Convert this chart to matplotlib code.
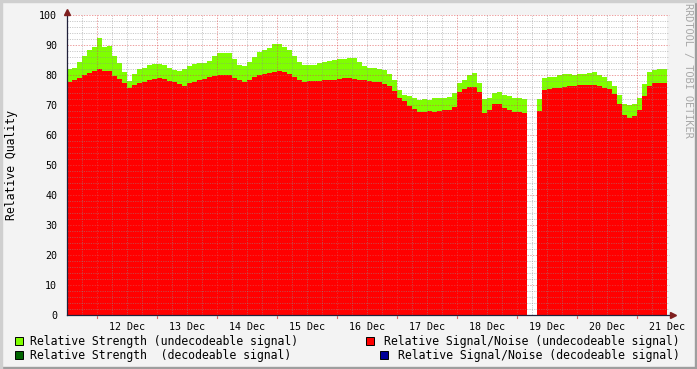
import numpy as np
import matplotlib
matplotlib.use("Agg")
import matplotlib.pyplot as plt
from matplotlib.patches import Rectangle

# samples every 2 hours, starting 11 Dec 00:00 (10 days, 120 steps)
strength = [82, 82.5, 84.5, 86.5, 88.2, 89.5, 92.5, 89.5, 89.7, 86.5,
            84, 81, 78, 80.5, 82, 82.5, 83.5, 83.8, 83.8, 83.5,
            82.5, 81.8, 81.4, 82, 83, 83.8, 84, 84, 84.6, 86.2,
            87.2, 87.5, 87.5, 85.5, 83.5, 83, 84.5, 86, 87.6, 88.2,
            89, 90.2, 90.3, 89.5, 88.3, 86.3, 84.2, 83.3, 83.3, 83.5,
            84, 84.5, 84.8, 85, 85.2, 85.5, 85.8, 85.8, 84.5, 83,
            82.5, 82.2, 82, 81.6, 80.5, 78.5, 75, 73.5, 73, 72.2,
            71.7, 72, 71.7, 72.2, 72.5, 72.4, 72.6, 74, 77.5, 78.5,
            80, 80.6, 77.5, 72, 72.5, 74, 74.5, 73.3, 73, 72.3,
            72.2, 72, np.nan, np.nan, 72, 79, 79.3, 79.5, 80, 80.2,
            80.2, 80, 80.2, 80.5, 80.8, 81, 80, 79.2, 78, 76.5,
            73.5, 70.5, 70, 70.2, 72.5, 77, 81, 81.8, 81.9, 81.9]
snr = [77.8, 78.2, 79, 80, 80.8, 81.2, 82, 81.2, 81.2, 79.8,
       78.8, 77.5, 75.6, 76.6, 77.2, 77.8, 78.3, 78.8, 78.9, 78.6,
       78, 77.6, 76.9, 76.5, 77.2, 77.8, 78.4, 78.8, 79.2, 79.6,
       80, 80, 80, 79, 78.2, 77.8, 78.4, 79.2, 80, 80.4,
       80.6, 81, 81.2, 81, 80.2, 79.2, 78.2, 77.6, 77.9, 78,
       78.1, 78.3, 78.3, 78.5, 78.7, 78.9, 79, 78.8, 78.5, 78.2,
       78, 77.8, 77.6, 77, 76.2, 74.8, 72.5, 71.2, 69.8, 68.6,
       67.6, 67.8, 68, 67.8, 68, 68.2, 68.4, 69.5, 74.5, 75.5,
       76, 76, 74.5, 67.5, 68.5, 70.5, 70.5, 69, 68.3, 67.8,
       67.6, 67.2, np.nan, np.nan, 68, 75, 75.4, 75.6, 75.8, 76,
       76.2, 76.4, 76.6, 76.8, 76.8, 76.6, 76.2, 75.8, 75.2, 73.8,
       70.5, 66.8, 65.8, 66.2, 68.5, 73, 76.5, 77.2, 77.2, 77.3]
day_labels = ['12 Dec', '13 Dec', '14 Dec', '15 Dec', '16 Dec',
              '17 Dec', '18 Dec', '19 Dec', '20 Dec', '21 Dec']
legend_left = ['Relative Strength (undecodeable signal)',
               'Relative Strength  (decodeable signal)']
legend_right = ['Relative Signal/Noise (undecodeable signal)',
                'Relative Signal/Noise (decodeable signal)']

W, H = 697, 369
MONO = 'DejaVu Sans Mono'
plt.rcParams['font.family'] = MONO

fig = plt.figure(figsize=(W / 100, H / 100), dpi=100, facecolor='#F3F3F3')
# frame shading
fig.patches.append(Rectangle((0, 0), 1, 2 / H, transform=fig.transFigure, color='#9E9E9E'))
fig.patches.append(Rectangle((1 - 2 / W, 0), 2 / W, 1, transform=fig.transFigure, color='#9E9E9E'))
fig.patches.append(Rectangle((0, 1 - 2 / H), 1, 2 / H, transform=fig.transFigure, color='#CFCFCF'))
fig.patches.append(Rectangle((0, 0), 2 / W, 1, transform=fig.transFigure, color='#CFCFCF'))

ax = fig.add_axes([67 / W, 54 / H, 600 / W, 300 / H])
ax.set_facecolor('white')

t = np.arange(len(strength)) * 2
s = np.array(strength)
r = np.array(snr)
ok = ~np.isnan(s)
ax.bar(t[ok], s[ok], width=2, align='edge', color='#7FFF00', linewidth=0, antialiased=False, zorder=1)
ax.bar(t[ok], r[ok], width=2, align='edge', color='#FF0000', linewidth=0, antialiased=False, zorder=2)

ax.set_xlim(0, 240)
ax.set_ylim(0, 100)
for sp in ax.spines.values():
    sp.set_visible(False)

# grid on top of the areas
minor_c = (0.56, 0.56, 0.56, 0.55)
major_c = (0.87, 0.31, 0.31, 0.55)
dot = (0, (1.4, 1.4))
for y in range(2, 101, 2):
    if y % 10 == 0:
        ax.axhline(y, xmin=0, xmax=1.004, color=major_c, lw=0.7, ls=dot, zorder=3, clip_on=False)
    else:
        ax.axhline(y, xmin=0, xmax=1.004, color=minor_c, lw=0.6, ls=dot, zorder=3, clip_on=False)
for h in range(6, 240, 6):
    if (h - 12) % 24 == 0:
        ax.axvline(h, ymin=-0.01, ymax=1, color=major_c, lw=0.7, ls=dot, zorder=3, clip_on=False)
        ax.plot([h, h], [0, -0.9], color=(0.87, 0.31, 0.31, 0.8), lw=0.8, zorder=3, clip_on=False)
    else:
        ax.axvline(h, ymin=0, ymax=1, color=minor_c, lw=0.6, ls=dot, zorder=3, clip_on=False)

# axes with arrows
axis_c = '#20203A'
arrow_c = '#7F1F1F'
ax.plot([0, 0], [0, 1.015], transform=ax.transAxes, color=axis_c, lw=0.9, clip_on=False, zorder=4)
ax.plot([0, 1.008], [0, 0], transform=ax.transAxes, color=axis_c, lw=0.9, clip_on=False, zorder=4)
ax.plot([0], [1.01], marker='^', ms=4, color=arrow_c, transform=ax.transAxes, clip_on=False, zorder=5)
ax.plot([1.01], [0], marker='>', ms=4, color=arrow_c, transform=ax.transAxes, clip_on=False, zorder=5)

ax.set_yticks(range(0, 101, 10))
ax.set_yticklabels([str(v) for v in range(0, 101, 10)])
ax.set_xticks(np.arange(1, 11) * 24)
ax.set_xticklabels(day_labels)
ax.tick_params(length=0, labelsize=7.2)
ax.tick_params(axis='y', pad=7)
ax.tick_params(axis='x', pad=5)

fig.text(12 / W, 1 - 165 / H, 'Relative Quality', rotation=90, ha='center', va='center', fontsize=8.3)
fig.text(688 / W, 1 - 3 / H, 'RRDTOOL / TOBI OETIKER', rotation=270, ha='center', va='top',
         fontsize=7.4, color='#A8A8A8')

# legend
colors_left = ['#7FFF00', '#006400']
colors_right = ['#FF0000', '#000099']
rows = [341, 355]
for i in range(2):
    yc = 1 - rows[i] / H
    fig.patches.append(Rectangle((15 / W, yc - 4 / H), 8 / W, 8 / H, transform=fig.transFigure,
                                 facecolor=colors_left[i], edgecolor='black', lw=0.7))
    fig.text(30 / W, yc, legend_left[i], ha='left', va='center', fontsize=8.3)
    txt = fig.text(680 / W, yc, legend_right[i], ha='right', va='center', fontsize=8.3)
    n = len(legend_right[i])
    sq_x = 680 - n * 6.95 - 15
    fig.patches.append(Rectangle((sq_x / W, yc - 4 / H), 8 / W, 8 / H, transform=fig.transFigure,
                                 facecolor=colors_right[i], edgecolor='black', lw=0.7))

fig.savefig('out.png', dpi=100, facecolor=fig.get_facecolor())
